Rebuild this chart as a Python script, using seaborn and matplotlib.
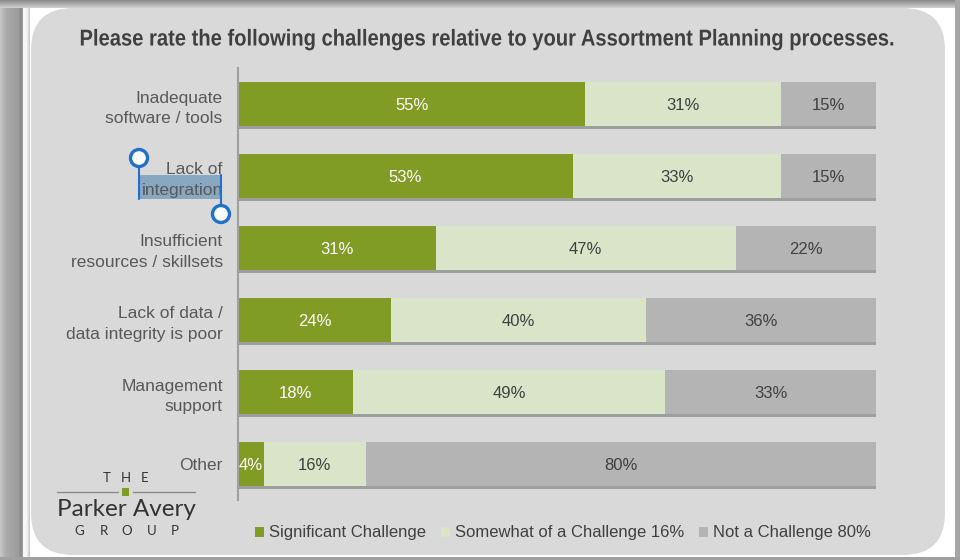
import numpy as np
import pandas as pd
import seaborn as sns
import matplotlib.pyplot as plt
from matplotlib.patches import FancyBboxPatch, Rectangle, Circle, Patch
from matplotlib.transforms import Affine2D
from matplotlib import patheffects as pe

# Survey results (percent of respondents)
categories = [
    "Inadequate\nsoftware / tools",
    "Lack of\nintegration",
    "Insufficient\nresources / skillsets",
    "Lack of data /\ndata integrity is poor",
    "Management\nsupport",
    "Other",
]
significant = [55, 53, 31, 24, 18, 4]
somewhat = [31, 33, 47, 40, 49, 16]
not_challenge = [15, 15, 22, 36, 33, 80]

series_names = ["Significant Challenge", "Somewhat of a Challenge 16%", "Not a Challenge 80%"]
series_colors = ["#809c24", "#d9e4c8", "#b4b4b4"]
label_colors = ["white", "#404040", "#404040"]

title = "Please rate the following challenges relative to your Assortment Planning processes."

df = pd.DataFrame({
    "category": categories,
    "significant": significant,
    "somewhat": somewhat,
    "not_challenge": not_challenge,
})
cols = ["significant", "somewhat", "not_challenge"]
total = df[cols].sum(axis=1)
for c in cols:
    df[c + "_share"] = df[c] / total * 100
df["cum1"] = df["significant_share"]
df["cum2"] = df["cum1"] + df["somewhat_share"]
df["cum3"] = df["cum2"] + df["not_challenge_share"]


class Condensed(pe.AbstractPathEffect):
    """Squeeze glyph outlines horizontally around a fixed display x."""

    def __init__(self, sx, cx):
        super().__init__()
        self.sx = sx
        self.cx = cx

    def draw_path(self, renderer, gc, tpath, affine, rgbFace=None):
        squeeze = Affine2D().translate(-self.cx, 0).scale(self.sx, 1).translate(self.cx, 0)
        renderer.draw_path(gc, tpath, affine + squeeze, rgbFace)


sns.set_theme(style="white")
plt.rcParams["font.family"] = ["Liberation Sans", "DejaVu Sans"]

fig = plt.figure(figsize=(9.6, 5.6), dpi=100, facecolor="white")

# pixel-space background layer
bg = fig.add_axes([0, 0, 1, 1], zorder=0)
bg.axis("off")

# window chrome behind the card
left_cols = np.array([0.78, 0.76, 0.74, 0.72, 0.70, 0.68, 0.67, 0.66, 0.66, 0.65,
                      0.65, 0.64, 0.64, 0.64, 0.63, 0.63, 0.62, 0.62, 0.60, 0.58,
                      0.55, 0.55, 0.62, 0.96, 0.97, 0.97, 0.96, 0.92, 0.86, 0.80])
bg.imshow(np.repeat(left_cols[None, :, None], 3, axis=2), extent=[0, 30, 560, 0],
          aspect="auto", zorder=0, vmin=0, vmax=1)
top_rows = np.linspace(0.55, 0.80, 8)
bg.imshow(np.repeat(np.repeat(top_rows[:, None, None], 3, axis=2), 2, axis=1),
          extent=[0, 960, 8, 0], aspect="auto", zorder=0, vmin=0, vmax=1)
bg.add_patch(Rectangle((955, 0), 5, 560, fc="#a6a6a6", ec="none", zorder=1))
bg.add_patch(Rectangle((0, 557), 960, 3, fc="#a0a0a0", ec="none", zorder=1))
bg.set_xlim(0, 960)
bg.set_ylim(560, 0)

# rounded card
bg.add_patch(FancyBboxPatch((31, 8), 914, 547,
                            boxstyle="round,pad=0,rounding_size=42",
                            fc="#d9d9d9", ec="none", zorder=2))
# text selection highlight
bg.add_patch(Rectangle((139, 175), 82, 24, fc="#88a7c0", ec="none", zorder=3))

# chart axes
ax = fig.add_axes([238 / 960, 1 - 500 / 560, 638 / 960, 432 / 560], zorder=1)
ax.patch.set_alpha(0)

layers = [("cum3", series_colors[2]), ("cum2", series_colors[1]), ("cum1", series_colors[0])]
for col, color in layers:
    sns.barplot(data=df, x=col, y="category", order=categories, color=color,
                saturation=1, width=0.61, errorbar=None, linewidth=0, ax=ax)

shadow = [pe.SimplePatchShadow(offset=(0, -2.2), shadow_rgbFace="#9e9e9e", alpha=1.0), pe.Normal()]
for p in ax.patches:
    p.set_path_effects(shadow)

# value labels
for i, row in df.iterrows():
    start = 0.0
    for c, tc in zip(cols, label_colors):
        share = row[c + "_share"]
        ax.text(start + share / 2, i, f"{row[c]}%", ha="center", va="center_baseline",
                fontsize=12, color=tc)
        start += share

ax.set_xlim(0, 100)
ax.set_ylim(5.5, -0.5)
ax.set_xticks([])
ax.set_xlabel("")
ax.set_ylabel("")
ax.tick_params(axis="y", length=0, pad=11, labelsize=12.5, labelcolor="#595959")
for lab in ax.get_yticklabels():
    lab.set_linespacing(1.45)
    lab.set_multialignment("right")
for s in ["top", "right", "bottom"]:
    ax.spines[s].set_visible(False)
ax.spines["left"].set_color("#a0a0a0")
ax.spines["left"].set_linewidth(1.5)

# title, set in a narrow cut
title_x = 486
fig.text(title_x / 960, 1 - 39 / 560, title, ha="center", va="center", fontsize=16.5,
         fontweight="bold", color="#404040",
         path_effects=[Condensed(0.88, title_x * fig.dpi / 100)])

# legend
handles = [Patch(fc=c, ec="none") for c in series_colors]
fig.legend(handles, series_names, loc="center", bbox_to_anchor=(563 / 960, 1 - 533 / 560),
           ncol=3, frameon=False, fontsize=12, handlelength=0.55, handleheight=0.55,
           handletextpad=0.3, columnspacing=0.9, labelcolor="#404040")

# overlay layer: logo and selection handles
top = fig.add_axes([0, 0, 1, 1], zorder=2)
top.set_xlim(0, 960)
top.set_ylim(560, 0)
top.axis("off")
top.patch.set_alpha(0)

for x, ch in zip([107, 126, 145], "THE"):
    top.text(x, 478, ch, ha="center", va="center", fontsize=9.5, color="#333333", family="Lato")
top.plot([57, 118], [492, 492], color="#8a8a8a", lw=1)
top.plot([133, 195], [492, 492], color="#8a8a8a", lw=1)
top.add_patch(Rectangle((122, 488), 7, 8, fc="#809c24", ec="none"))
top.text(126, 510, "Parker Avery", ha="center", va="center", fontsize=17.5,
         color="#333333", family="Lato")
for x, ch in zip([79, 104, 127, 152, 175], "GROUP"):
    top.text(x, 531, ch, ha="center", va="center", fontsize=9.5, color="#333333", family="Lato")

sel_blue = "#2070cc"
top.plot([139, 139], [166, 199], color=sel_blue, lw=1.5)
top.plot([221, 221], [175, 206], color=sel_blue, lw=1.5)
top.add_patch(Circle((139, 158), 8.5, fc="white", ec=sel_blue, lw=2.4))
top.add_patch(Circle((221, 214), 8.5, fc="white", ec=sel_blue, lw=2.4))

fig.savefig("out.png", dpi=100, facecolor=fig.get_facecolor())
